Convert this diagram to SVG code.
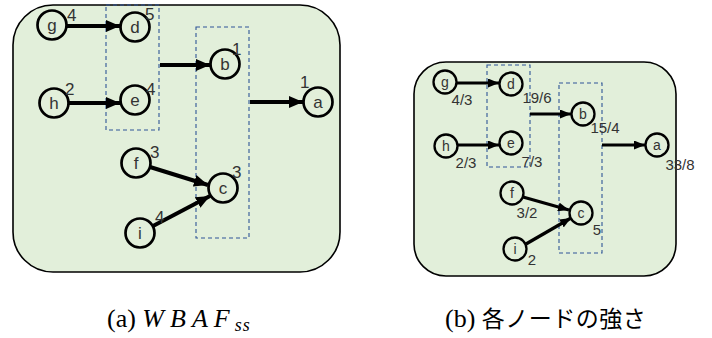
<svg xmlns="http://www.w3.org/2000/svg" width="712" height="338" viewBox="0 0 712 338">
  <style>
    .panel { fill: #E2EFDA; stroke: #000; stroke-width: 1.6; }
    .group { fill: none; stroke: #2F5597; stroke-width: 1.1; stroke-dasharray: 4 3; }
    .nodeL { fill: none; stroke: #000; stroke-width: 2.7; }
    .nodeR { fill: none; stroke: #000; stroke-width: 2.3; }
    .lblL { font-family: "Liberation Sans", Arial, sans-serif; font-size: 17px; fill: #333; text-anchor: middle; }
    .lblR { font-family: "Liberation Sans", Arial, sans-serif; font-size: 14px; fill: #333; text-anchor: middle; }
    .wL { font-family: "Liberation Sans", Arial, sans-serif; font-size: 17px; fill: #333; }
    .wR { font-family: "Liberation Sans", Arial, sans-serif; font-size: 15px; fill: #333; text-anchor: middle; }
    .edgeL { stroke: #000; stroke-width: 4; fill: none; marker-end: url(#headL); }
    .edgeR { stroke: #000; stroke-width: 3.2; fill: none; marker-end: url(#headR); }
    .cap { font-family: "Liberation Serif", "Times New Roman", serif; font-size: 26px; fill: #000; }
    .math { font-style: italic; letter-spacing: 6px; }
    .sub { font-style: italic; font-size: 18px; letter-spacing: 1px; }
    .jp { font-family: "Noto Sans CJK JP", sans-serif; font-size: 23px; letter-spacing: 0.5px; }
  </style>
  <defs>
    <marker id="headL" markerUnits="userSpaceOnUse" markerWidth="14" markerHeight="12" refX="14" refY="6" orient="auto">
      <path d="M0,0 L14,6 L0,12 Z" fill="#000"/>
    </marker>
    <marker id="headR" markerUnits="userSpaceOnUse" markerWidth="11" markerHeight="9" refX="11" refY="4.5" orient="auto">
      <path d="M0,0 L11,4.5 L0,9 Z" fill="#000"/>
    </marker>
  </defs>

  <!-- left panel: WBAF_ss -->
  <rect class="panel" x="13" y="5" width="327" height="267" rx="40" ry="40"/>
  <rect class="group" x="106" y="5" width="53" height="125"/>
  <rect class="group" x="196" y="27" width="53" height="211"/>

  <g id="edges-left">
    <line class="edgeL" x1="67" y1="26" x2="120" y2="26"/>
    <line class="edgeL" x1="69" y1="103" x2="120" y2="103"/>
    <line class="edgeL" x1="160" y1="65" x2="210" y2="65"/>
    <line class="edgeL" x1="250" y1="102" x2="303" y2="102"/>
    <line class="edgeL" x1="150" y1="167" x2="208" y2="185"/>
    <line class="edgeL" x1="153" y1="226" x2="210" y2="196"/>
  </g>

  <g id="L-g"><circle class="nodeL" cx="52" cy="25" r="14.5"/><text class="lblL" x="52" y="31">g</text><text class="wL" x="67" y="21">4</text></g>
  <g id="L-d"><circle class="nodeL" cx="135" cy="27" r="14.5"/><text class="lblL" x="135" y="33">d</text><text class="wL" x="145" y="20">5</text></g>
  <g id="L-h"><circle class="nodeL" cx="54" cy="103" r="14.5"/><text class="lblL" x="54" y="109">h</text><text class="wL" x="65" y="95">2</text></g>
  <g id="L-e"><circle class="nodeL" cx="135" cy="100" r="14.5"/><text class="lblL" x="135" y="106">e</text><text class="wL" x="146" y="95">4</text></g>
  <g id="L-b"><circle class="nodeL" cx="225" cy="64" r="14.5"/><text class="lblL" x="225" y="70">b</text><text class="wL" x="232" y="55">1</text></g>
  <g id="L-a"><circle class="nodeL" cx="318" cy="102" r="14.5"/><text class="lblL" x="318" y="108">a</text><text class="wL" x="300" y="88">1</text></g>
  <g id="L-f"><circle class="nodeL" cx="136" cy="163" r="14.5"/><text class="lblL" x="136" y="169">f</text><text class="wL" x="150" y="158">3</text></g>
  <g id="L-c"><circle class="nodeL" cx="223" cy="188" r="14.5"/><text class="lblL" x="223" y="194">c</text><text class="wL" x="232" y="178">3</text></g>
  <g id="L-i"><circle class="nodeL" cx="140" cy="233" r="14.5"/><text class="lblL" x="140" y="239">i</text><text class="wL" x="155" y="223">4</text></g>

  <!-- right panel: node strengths -->
  <rect class="panel" x="414" y="62" width="262" height="214" rx="32" ry="32"/>
  <rect class="group" x="487" y="65" width="43" height="102"/>
  <rect class="group" x="559" y="83" width="43" height="170"/>

  <g id="edges-right">
    <line class="edgeR" x1="457" y1="83" x2="499" y2="83"/>
    <line class="edgeR" x1="458" y1="145" x2="499" y2="145"/>
    <line class="edgeR" x1="530" y1="114" x2="571" y2="114"/>
    <line class="edgeR" x1="602" y1="145" x2="645" y2="145"/>
    <line class="edgeR" x1="523" y1="197" x2="569" y2="210"/>
    <line class="edgeR" x1="526" y1="244" x2="571" y2="218"/>
  </g>

  <g id="R-g"><circle class="nodeR" cx="445" cy="82" r="11.5"/><text class="lblR" x="445" y="87">g</text><text class="wR" x="462" y="105">4/3</text></g>
  <g id="R-d"><circle class="nodeR" cx="511" cy="84" r="11.5"/><text class="lblR" x="511" y="89">d</text><text class="wR" x="537" y="103">19/6</text></g>
  <g id="R-h"><circle class="nodeR" cx="446" cy="146" r="11.5"/><text class="lblR" x="446" y="151">h</text><text class="wR" x="466" y="168">2/3</text></g>
  <g id="R-e"><circle class="nodeR" cx="511" cy="143" r="11.5"/><text class="lblR" x="511" y="148">e</text><text class="wR" x="532" y="167">7/3</text></g>
  <g id="R-b"><circle class="nodeR" cx="583" cy="114" r="11.5"/><text class="lblR" x="583" y="119">b</text><text class="wR" x="605" y="133">15/4</text></g>
  <g id="R-a"><circle class="nodeR" cx="657" cy="145" r="11.5"/><text class="lblR" x="657" y="150">a</text><text class="wR" x="680" y="170">33/8</text></g>
  <g id="R-f"><circle class="nodeR" cx="512" cy="193" r="11.5"/><text class="lblR" x="512" y="198">f</text><text class="wR" x="527" y="218">3/2</text></g>
  <g id="R-c"><circle class="nodeR" cx="581" cy="213" r="11.5"/><text class="lblR" x="581" y="218">c</text><text class="wR" x="597" y="235">5</text></g>
  <g id="R-i"><circle class="nodeR" cx="515" cy="249" r="11.5"/><text class="lblR" x="515" y="254">i</text><text class="wR" x="532" y="265">2</text></g>

  <!-- captions -->
  <text class="cap" x="107" y="327">(a) <tspan class="math">WBAF</tspan><tspan class="sub" dx="-1" dy="4">ss</tspan></text>
  <text class="cap" x="445" y="327">(b) <tspan class="jp">各ノードの強さ</tspan></text>
</svg>
